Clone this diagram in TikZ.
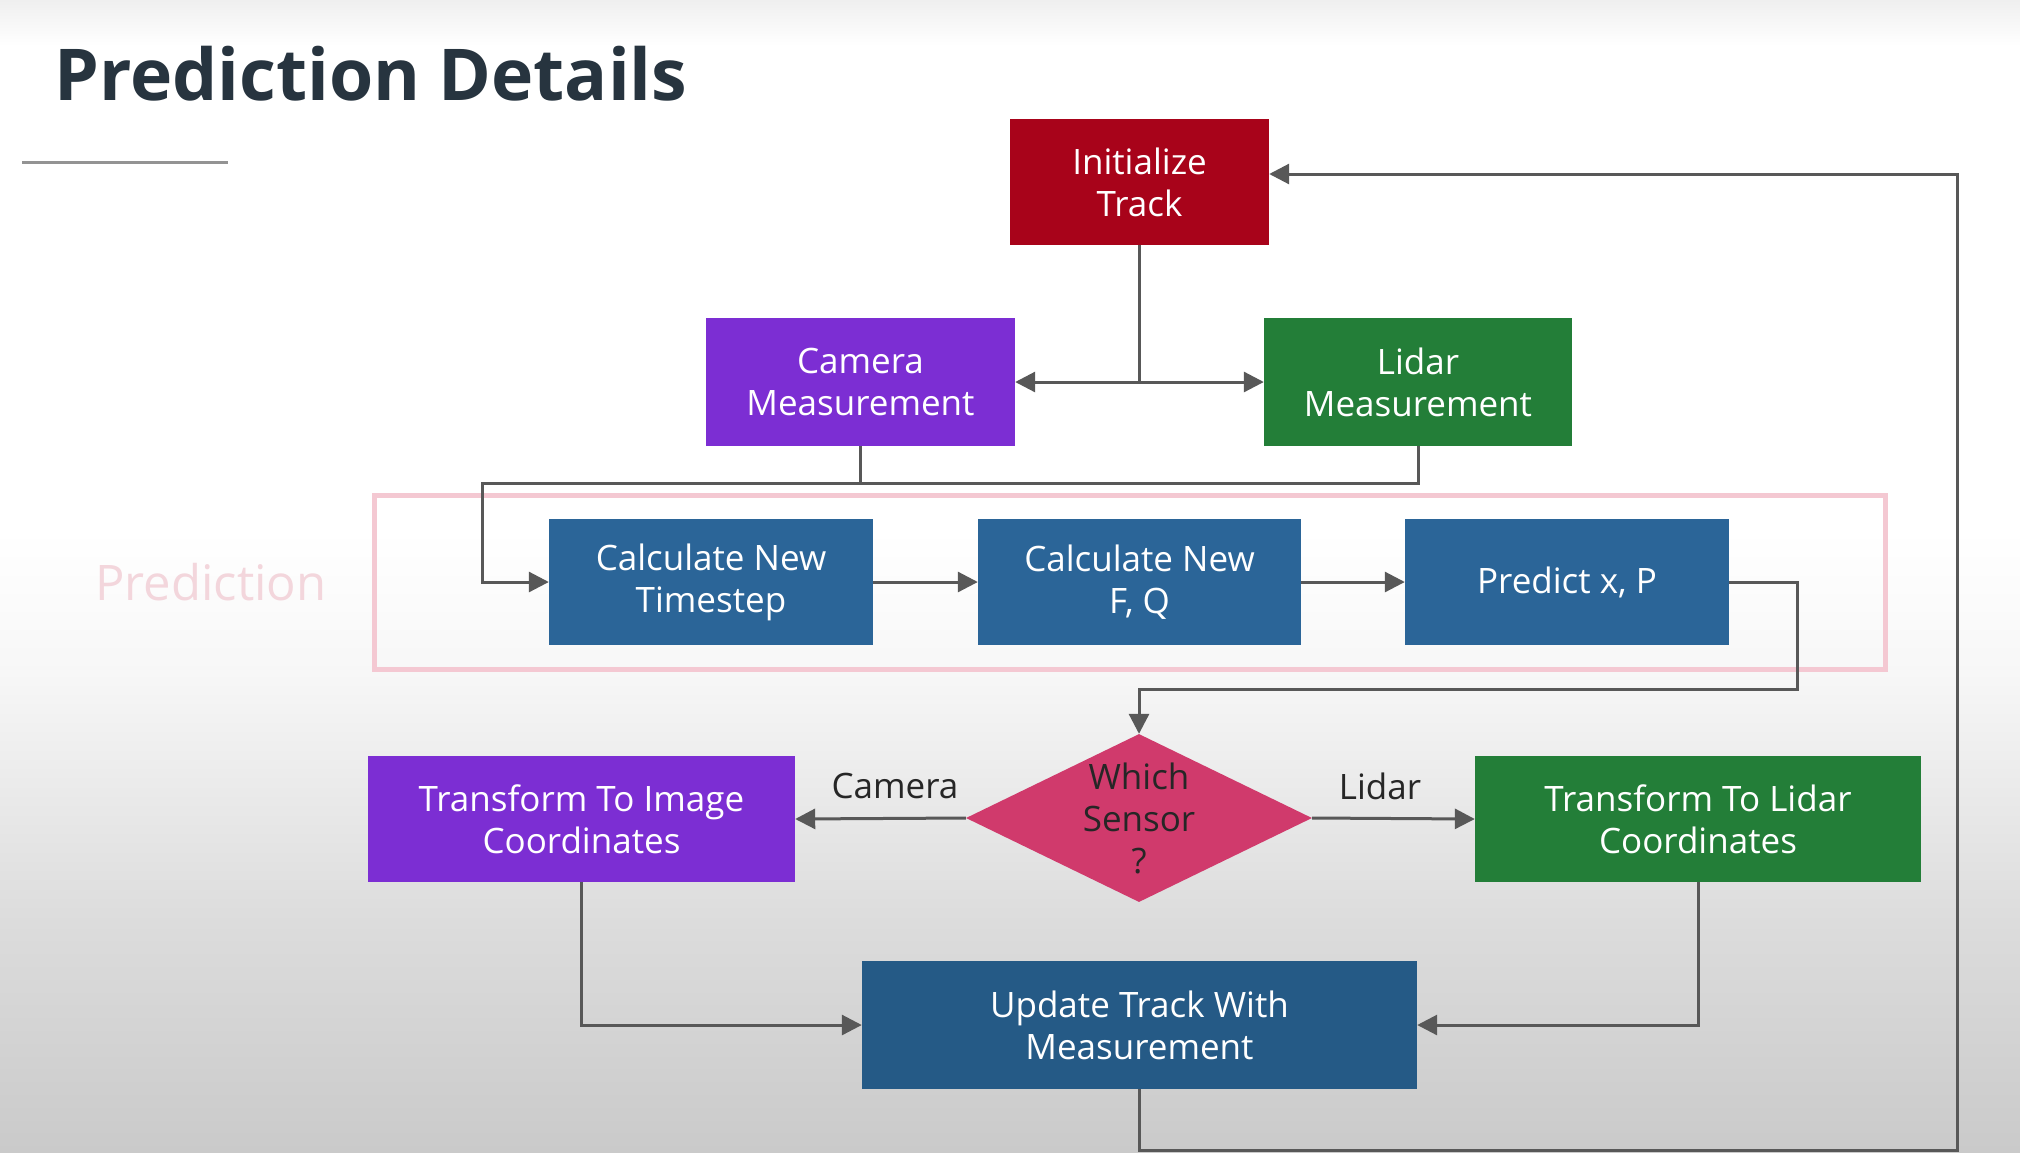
\documentclass[tikz,border=0pt]{standalone}
\usepackage{fontspec}
\setmainfont{Open Sans}
\usetikzlibrary{shapes.geometric,arrows.meta,calc}
\definecolor{initred}{HTML}{A8031A}
\definecolor{campurple}{HTML}{7C2ED3}
\definecolor{lidgreen}{HTML}{237E38}
\definecolor{stepblue}{HTML}{2B6598}
\definecolor{updblue}{HTML}{255A86}
\definecolor{diapink}{HTML}{D03A6C}
\definecolor{framepink}{HTML}{F4C8D2}
\definecolor{labpink}{HTML}{F3D6DC}
\definecolor{linegray}{HTML}{585858}
\definecolor{titlecol}{HTML}{27343F}
\definecolor{bgbot}{HTML}{CACACA}
\definecolor{bglow}{HTML}{DCDCDC}
\definecolor{bgtop}{HTML}{EFEFEF}
\pgfdeclareverticalshading{bgshade}{100bp}{color(0bp)=(bgbot); color(25bp)=(bgbot); color(35bp)=(bglow); color(46bp)=(white!97!black); color(52bp)=(white); color(73bp)=(white); color(75bp)=(bgtop); color(100bp)=(bgtop)}
\tikzset{
  box/.style={rectangle, inner sep=0pt, align=center, text=white, font=\fontsize{35}{42}\selectfont},
  conn/.style={draw=linegray, line width=3pt},
  arr/.style={conn, -{Triangle[length=20pt,width=20pt]}},
  lab/.style={font=\fontsize{35}{42}\selectfont, text=black!85}
}
\begin{document}
\begin{tikzpicture}[x=1pt,y=-1pt]
\useasboundingbox (0,0) rectangle (2020,1152);
\shade[shading=bgshade] (0,0) rectangle (2020,1152);
% title
\node[anchor=base west, inner sep=0pt, text=titlecol, font=\fontsize{71.5}{78}\selectfont\bfseries] (title) at (54,100) {Prediction Details};
\draw[draw=gray!85, line width=3pt] (22,162) -- (228,162);
% prediction frame
\draw[draw=framepink, line width=5pt] (374,495) rectangle (1885,669);
\node[text=labpink, font=\fontsize{49}{56}\selectfont] (plab) at (211,582) {Prediction};
% nodes
\node[box, fill=initred, minimum width=259pt, minimum height=126pt] (init) at (1139.5,182) {Initialize\\Track};
\node[box, fill=campurple, minimum width=309pt, minimum height=128pt] (cam) at (860.5,382) {Camera\\Measurement};
\node[box, fill=lidgreen, minimum width=308pt, minimum height=128pt] (lid) at (1418,382) {Lidar\\Measurement};
\node[box, fill=stepblue, minimum width=324pt, minimum height=126pt] (ts) at (711,582) {Calculate New\\Timestep};
\node[box, fill=stepblue, minimum width=323pt, minimum height=126pt] (fq) at (1139.5,582) {Calculate New\\F, Q};
\node[box, fill=stepblue, minimum width=324pt, minimum height=126pt] (pr) at (1567,582) {Predict x, P};
\node[diamond, fill=diapink, inner sep=0pt, minimum width=346pt, minimum height=168pt] (dia) at (1139,818) {};
\node[align=center, inner sep=0pt, text=black!85, font=\fontsize{35}{42}\selectfont] (diatext) at (dia.center) {Which\\Sensor\\?};
\node[box, fill=campurple, minimum width=427pt, minimum height=126pt] (img) at (581.5,819) {Transform To Image\\Coordinates};
\node[box, fill=lidgreen, minimum width=446pt, minimum height=126pt] (lt) at (1698,819) {Transform To Lidar\\Coordinates};
\node[box, fill=updblue, minimum width=555pt, minimum height=128pt] (upd) at (1139.5,1025) {Update Track With\\Measurement};
% coordinates
\coordinate (j1) at (1139.5,382);
\coordinate (jL) at (482,483);
\coordinate (c1) at (1797,689);
\coordinate (rb) at (1957,1150);
\coordinate (rt) at (1957,174);
% connectors
\draw[conn] (init.south) -- (j1);
\draw[arr] (j1) -- (cam.east);
\draw[arr] (j1) -- (lid.west);
\draw[conn] (cam.south) -- (cam.south |- jL);
\draw[arr] (lid.south) |- (jL) |- (ts.west);
\draw[arr] (ts.east) -- (fq.west);
\draw[arr] (fq.east) -- (pr.west);
\draw[arr] (pr.east) -| (c1) -| (dia.north);
\draw[arr] (dia.west) -- (img.east);
\draw[arr] (dia.east) -- (lt.west);
\node[lab] (camlab) at (895,786) {Camera};
\node[lab] (lidlab) at (1380,786) {Lidar};
\draw[arr] (img.south) |- (upd.west);
\draw[arr] (lt.south) |- (upd.east);
\draw[arr] (upd.south) |- (rb) -- (rt) -- (init.east |- rt);
\end{tikzpicture}
\end{document}
